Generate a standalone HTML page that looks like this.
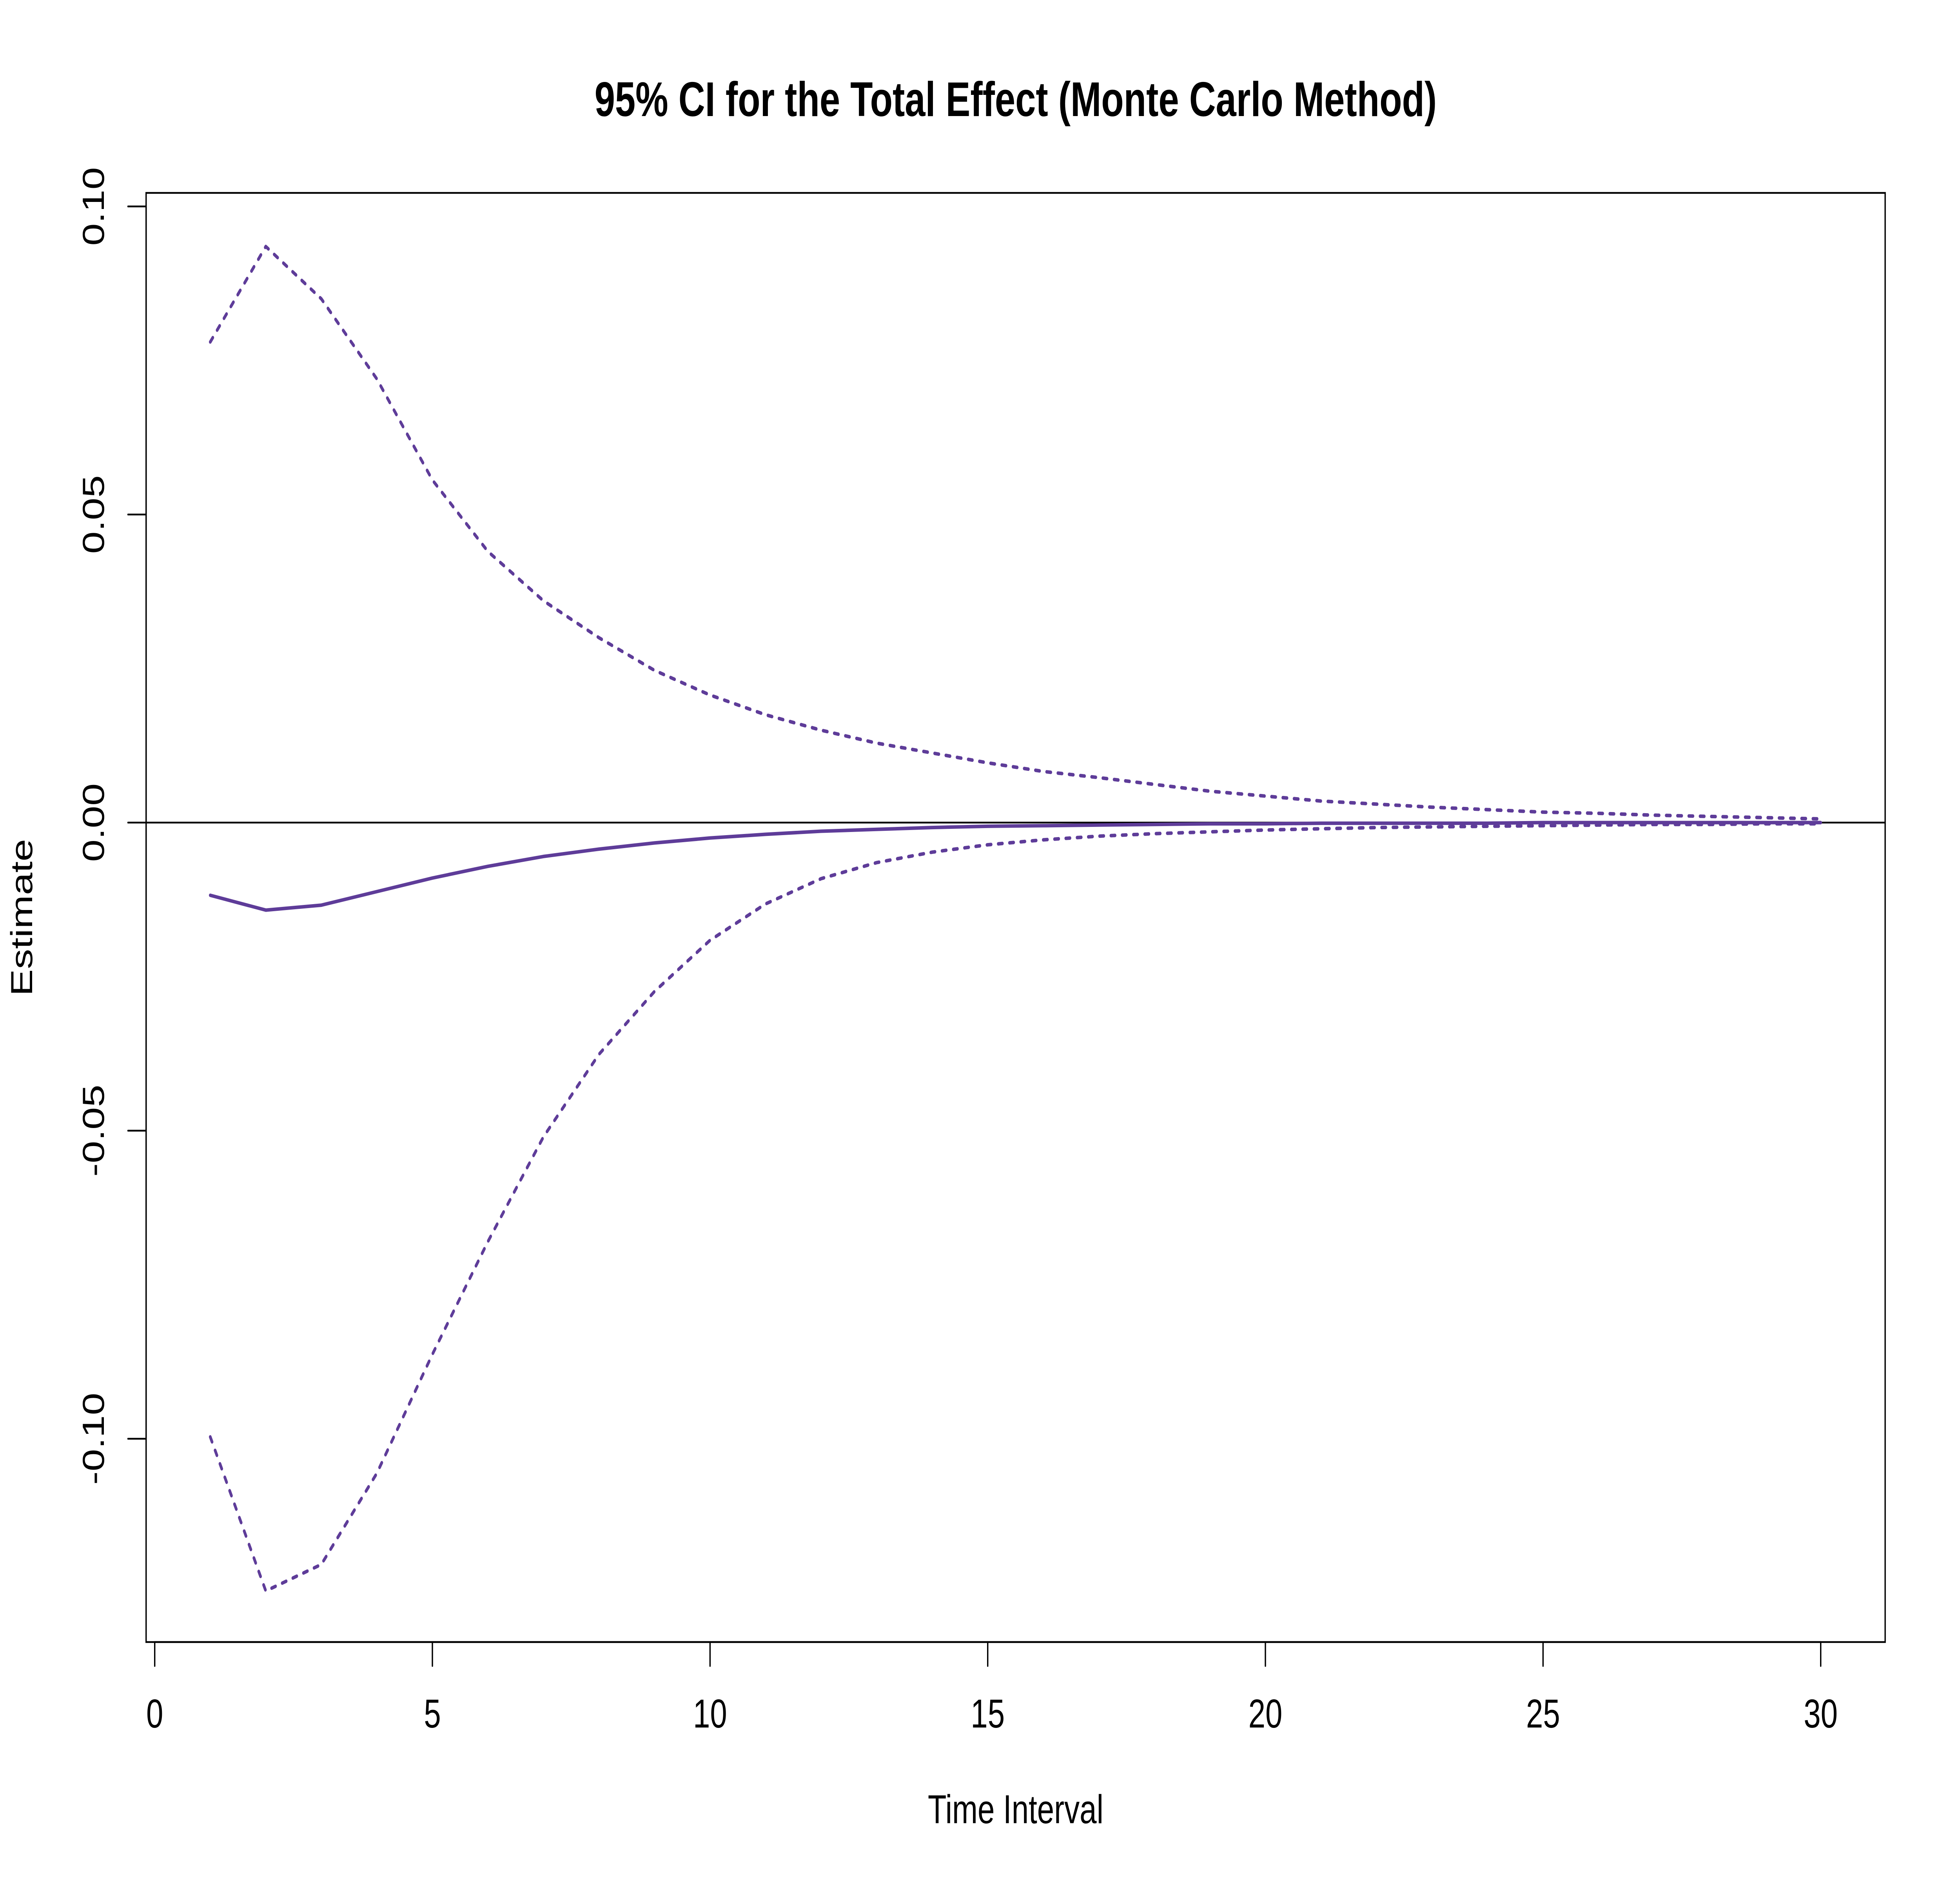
<!DOCTYPE html>
<html><head><meta charset="utf-8"><style>html,body{margin:0;padding:0;background:#fff;overflow:hidden}svg{display:block;width:100vw;height:100vh}</style></head>
<body>
<svg id="chart" xmlns="http://www.w3.org/2000/svg" viewBox="0 0 6600 4800" preserveAspectRatio="none" font-family="Liberation Sans, sans-serif">
<rect x="0" y="0" width="6600" height="4800" fill="#fff"/>
<g id="plot"></g>
</svg>
<script>
const times = Array.from({length:30},(_,i)=>i+1);
const estimate = [-0.0118,-0.0142,-0.0134,-0.0112,-0.0090,-0.0071,-0.0055,-0.0043,-0.0033,-0.0025,-0.0019,-0.0014,-0.0011,-0.0008,-0.0006,-0.0005,-0.0004,-0.0003,-0.0002,-0.0002,-0.0001,-0.0001,-0.0001,-0.0001,0,0,0,0,0,0];
const upper = [0.078,0.0935,0.085,0.072,0.0556,0.044,0.036,0.030,0.0247,0.0207,0.0175,0.015,0.0129,0.0113,0.0097,0.0083,0.0073,0.0062,0.0051,0.0043,0.0035,0.003,0.0025,0.0021,0.0017,0.0015,0.0012,0.001,0.0008,0.0006];
const lower = [-0.0997,-0.1247,-0.1204,-0.1056,-0.0863,-0.068,-0.051,-0.0376,-0.0274,-0.0191,-0.0132,-0.0091,-0.0065,-0.0048,-0.0036,-0.0028,-0.0022,-0.0018,-0.0015,-0.0012,-0.001,-0.0008,-0.0007,-0.0006,-0.0005,-0.0004,-0.0003,-0.0003,-0.0002,-0.0002];
const xTicks = [0,5,10,15,20,25,30];
const yTicks = [-0.10,-0.05,0.00,0.05,0.10];
const yTickLabels = ["-0.10","-0.05","0.00","0.05","0.10"];

const NS="http://www.w3.org/2000/svg";
const g=document.getElementById('plot');
const box={l:492,r:6348,t:492,b:4188};
const xs=v=>521+(v-0)*(6131-521)/30;
const ys=v=>2098-v*15715;
function el(tag,attrs){const e=document.createElementNS(NS,tag);for(const k in attrs)e.setAttribute(k,attrs[k]);g.appendChild(e);return e;}

const zl=el('line',{x1:box.l,x2:box.r,y1:ys(0),y2:ys(0),stroke:'#000','stroke-width':4.5});



function series(vals,name,dashed){
  const d=vals.map((v,i)=>(i?'L':'M')+xs(times[i]).toFixed(1)+' '+ys(v).toFixed(1)).join(' ');
  const p=el('path',{d:d,fill:'none',stroke:'#5E3C99','stroke-width':9,'stroke-linecap':'round','stroke-linejoin':'round'});
  if(dashed)p.setAttribute('stroke-dasharray','14 24');
  
  
}
series(upper,'upper-ci-line',true);
series(lower,'lower-ci-line',true);
series(estimate,'estimate-line',false);

const fr=el('rect',{x:box.l,y:box.t,width:box.r-box.l,height:box.b-box.t,fill:'none',stroke:'#000','stroke-width':4.5});



const xa=el('line',{x1:xs(xTicks[0]),x2:xs(xTicks[xTicks.length-1]),y1:box.b,y2:box.b,stroke:'#000','stroke-width':4.5});


xTicks.forEach(v=>{
  const t=el('line',{x1:xs(v),x2:xs(v),y1:box.b,y2:box.b+61,stroke:'#000','stroke-width':4.5,'stroke-linecap':'round'});
  
  
  const tx=el('text',{x:xs(v),y:4406,'text-anchor':'middle','font-size':103});
  tx.textContent=String(v);
  
  
});
const ya=el('line',{x1:box.l,x2:box.l,y1:ys(yTicks[0]),y2:ys(yTicks[yTicks.length-1]),stroke:'#000','stroke-width':4.5});


yTicks.forEach((v,i)=>{
  const t=el('line',{x1:box.l-61,x2:box.l,y1:ys(v),y2:ys(v),stroke:'#000','stroke-width':4.5,'stroke-linecap':'round'});
  
  
  const tx=el('text',{x:0,y:0,'text-anchor':'middle','font-size':103,transform:`translate(350,${ys(v)}) rotate(-90)`});
  tx.textContent=yTickLabels[i];
  
  
});
const title=el('text',{x:3420,y:296,'text-anchor':'middle','font-size':124,'font-weight':'bold'});
title.textContent='95% CI for the Total Effect (Monte Carlo Method)';


const xl=el('text',{x:3420,y:4650,'text-anchor':'middle','font-size':103});
xl.textContent='Time Interval';


const yl=el('text',{x:0,y:0,'text-anchor':'middle','font-size':103,transform:'translate(108,2340) rotate(-90)'});
yl.textContent='Estimate';


</script>
</body></html>
